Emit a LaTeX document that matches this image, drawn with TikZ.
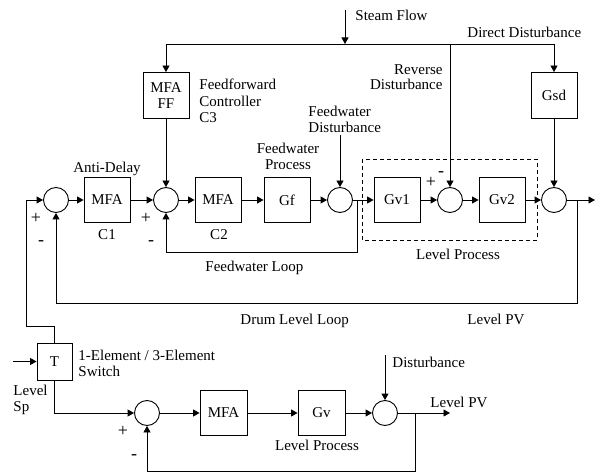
\documentclass[tikz,border=0pt]{standalone}
\usepackage{fontspec}
\setmainfont{Liberation Serif}
\usetikzlibrary{arrows.meta,calc}
\begin{document}
\begin{tikzpicture}[x=1pt,y=-1pt, line width=0.9pt,
  every node/.style={font=\fontsize{15}{16.5}\selectfont, inner sep=0pt},
  blk/.style={draw, align=center, minimum width=46, minimum height=45},
  sumc/.style={draw, circle, minimum size=25},
  arr/.style={-{Triangle[length=6.5pt,width=7pt]}}]
  \useasboundingbox (0,0) rectangle (595,473);
  % blocks and summing points
  \foreach \n/\x/\t in {c1/107/MFA,c2/218/MFA,gf/287/Gf,gv1/397/Gv1,gv2/502/Gv2}
    \node[blk] (\n) at (\x,200) {\t};
  \node[blk, minimum height=46] (ff) at (166,95.5) {MFA\\FF};
  \node[blk, minimum height=46] (gsd) at (554,95.5) {Gsd};
  \node[blk, minimum width=35, minimum height=37] (T) at (54.5,361.5) {T};
  \node[blk, minimum width=47] (mfa) at (223.5,413) {MFA};
  \node[blk, minimum width=47] (gv) at (321.5,413) {Gv};
  \foreach \n/\x/\y in {s1/56/200,s2/166/200,s3/340/200,s4/450/200,s5/554/200,s6/147/413,s7/385/413}
    \node[sumc] (\n) at (\x,\y) {};
  \draw[dash pattern=on 4pt off 3pt] (362,159) rectangle (537,240);
  % signal chains
  \foreach \a/\b in {s1/c1,c1/s2,s2/c2,c2/gf,gf/s3,s3/gv1,gv1/s4,s4/gv2,gv2/s5,s6/mfa,mfa/gv,gv/s7,ff/s2,gsd/s5}
    \draw[arr] (\a) -- (\b);
  % steam flow
  \coordinate (sf) at (345,10);
  \coordinate (top) at (345,44);
  \draw[arr] (sf) -- (top);
  \draw[arr] (top) -| (ff);
  \draw[arr] (top) -| (gsd);
  \draw[arr] (top -| s4) -- (s4);
  \coordinate (fwd) at (340,135);
  \draw[arr] (fwd) -- (s3);
  \coordinate (out1) at (595,200);
  \draw[arr] (s5) -- (out1);
  % loops
  \coordinate (fwb) at (357,200);
  \coordinate (fwl) at (357,252);
  \draw[arr] (fwb) -- (fwl) -| (s2);
  \coordinate (dlb) at (577,200);
  \coordinate (dll) at (577,303);
  \draw[arr] (dlb) -- (dll) -| (s1);
  \coordinate (tk) at (26,326);
  \draw[arr] (T) |- (tk) |- (s1);
  \coordinate (sp) at (13,361.5);
  \draw[arr] (sp) -- (T);
  \draw[arr] (T) |- (s6);
  \coordinate (dst) at (385,355);
  \draw[arr] (dst) -- (s7);
  \coordinate (pv) at (450,413);
  \draw[arr] (s7) -- (pv);
  \coordinate (pvb) at (415,413);
  \coordinate (bl) at (415,471);
  \draw[arr] (pvb) -- (bl) -| (s6);
  % labels
  \node[anchor=base west] (steam) at (355,21) {Steam Flow};
  \node[anchor=base west] (direct) at (467,38) {Direct Disturbance};
  \node[anchor=base east, align=right, font=\fontsize{15}{14.5}\selectfont] (rev) at (443,89.5) {Reverse\\Disturbance};
  \node[anchor=base west, align=left] (ffl) at (199,123) {Feedforward\\Controller\\C3};
  \node[anchor=base west, align=left] (fwdl) at (308,133) {Feedwater\\Disturbance};
  \node[anchor=base, align=center] (gfl) at (288,170) {Feedwater\\Process};
  \node[anchor=base] (adl) at (107,172.5) {Anti-Delay};
  \node[anchor=base] (c1l) at (107,240) {C1};
  \node[anchor=base] (c2l) at (219,240) {C2};
  \node[anchor=base west] (fwll) at (205,272) {Feedwater Loop};
  \node[anchor=base] (lpl) at (458,260) {Level Process};
  \node[anchor=base west] (dll) at (240,325) {Drum Level Loop};
  \node[anchor=base west] (pvl) at (467,325) {Level PV};
  \node[anchor=base west, align=left] (swl) at (78,376.7) {1-Element / 3-Element\\Switch};
  \node[anchor=base west, align=left] (spl) at (13,411.7) {Level\\Sp};
  \node[anchor=base west] (dstl) at (392,367) {Disturbance};
  \node[anchor=base west] (pv2l) at (430,407) {Level PV};
  \node[anchor=base] (lp2l) at (317,450) {Level Process};
  \foreach \n/\x/\y/\s in {g1/36/218/+,g2/41/243/-,g3/146/218/+,g4/151/243/-,g5/431/182/+,g6/441/174/-,g7/123/431/+,g8/134/457/-}
    \node[font=\fontsize{18}{18}\selectfont] (\n) at (\x,\y) {\s};
\end{tikzpicture}
\end{document}
